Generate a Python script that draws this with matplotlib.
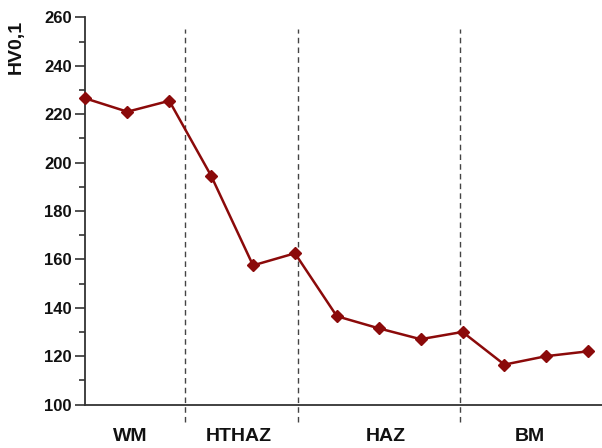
import matplotlib
matplotlib.use("Agg")
import matplotlib.pyplot as plt
from matplotlib.ticker import MultipleLocator

plt.rcParams['font.family'] = ['Liberation Sans', 'DejaVu Sans']

# Hardness profile across the weld
positions = list(range(13))
hardness = [226.5, 221, 225.5, 194.5, 157.5, 162.5, 136.5, 131.5, 127, 130, 116.5, 120, 122]

# Zone boundaries and labels
boundaries = [2.38, 5.08, 8.95]
zone_names = ["WM", "HTHAZ", "HAZ", "BM"]
zone_centers = [1.06, 3.67, 7.18, 10.6]

fig = plt.figure(figsize=(6.02, 4.48), dpi=100)
ax = fig.add_axes([0.142, 0.097, 0.858, 0.8643])

line_color = "#8b0a0a"
ax.plot(positions, hardness, color=line_color, lw=1.8, marker="D",
        markersize=6, markerfacecolor=line_color, markeredgecolor=line_color,
        clip_on=False, zorder=3)

ax.set_xlim(0, 12.33)
ax.set_ylim(100, 260)

for b in boundaries:
    ax.plot([b, b], [92.8, 255.2], ls=(0, (4, 3)), color="#444444", lw=1.0,
            clip_on=False, zorder=2)

for name, c in zip(zone_names, zone_centers):
    ax.text(c, 86.8, name, ha="center", va="center", fontsize=14,
            fontweight="bold", color="#111111", transform=ax.transData)

ax.spines["top"].set_visible(False)
ax.spines["right"].set_visible(False)
for s in ("left", "bottom"):
    ax.spines[s].set_color("#333333")
    ax.spines[s].set_linewidth(1.3)

ax.yaxis.set_major_locator(MultipleLocator(20))
ax.yaxis.set_minor_locator(MultipleLocator(10))
ax.tick_params(axis="y", which="major", direction="out", length=7, width=1.2,
               color="#333333", labelsize=12, pad=3)
ax.tick_params(axis="y", which="minor", direction="out", length=4, width=1.2,
               color="#333333")
ax.set_xticks([])
for lbl in ax.get_yticklabels():
    lbl.set_fontweight("bold")
    lbl.set_color("#111111")

fig.text(16 / 602, 1 - 47 / 448, "HV0,1", rotation=90, ha="center", va="center",
         fontsize=14, fontweight="bold", color="#111111")

fig.savefig("out.png", dpi=100)
